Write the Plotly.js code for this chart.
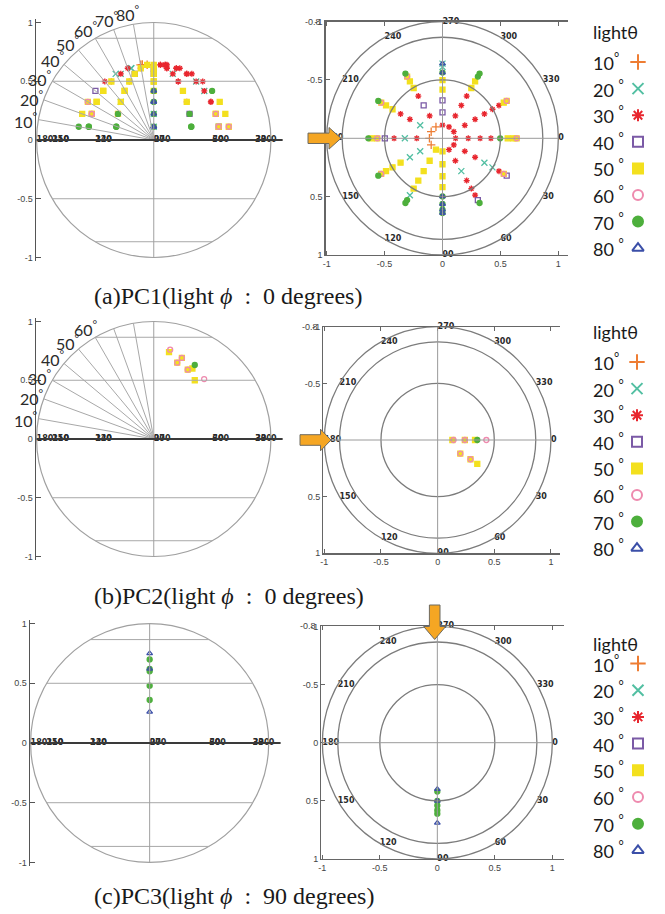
<!DOCTYPE html>
<html><head><meta charset="utf-8">
<script src="https://cdn.plot.ly/plotly-3.0.1.min.js"></script>
<style>html,body{margin:0;padding:0;background:#fff;}#chart{width:665px;height:914px;}</style>
</head><body><div id="chart"></div>
<script>
// ================= DATA =================
const lightTheta = [10, 20, 30, 40, 50, 60, 70, 80];
const legendLabels = ['10<sup>°</sup>', '20 <sup>°</sup>', '30 <sup>°</sup>', '40 <sup>°</sup>',
                      '50 <sup>°</sup>', '60 <sup>°</sup>', '70 <sup>°</sup>', '80 <sup>°</sup>'];
const legendTitle = 'lightθ';
const captions = ['(a)PC1(light <i>ϕ</i>&nbsp;&nbsp;:&nbsp;&nbsp;0&nbsp;degrees)',
                  '(b)PC2(light <i>ϕ</i>&nbsp;&nbsp;:&nbsp;&nbsp;0&nbsp;degrees)',
                  '(c)PC3(light <i>ϕ</i>&nbsp;&nbsp;:&nbsp;&nbsp;90&nbsp;degrees)'];
const polarAngles = [0, 30, 60, 90, 120, 150, 180, 210, 240, 270, 300, 330];
const polarAngleText = ['0', '30', '60', '90', '120', '150', '180', '210', '240', '270', '300', '330'];
const rayAnglesPC1 = [10, 20, 30, 40, 50, 60, 70, 80];
const rayLabelsPC1 = [10, 20, 30, 40, 50, 60, 70, 80];
const rayAnglesPC2 = [10, 20, 30, 40, 50, 60, 70, 80];
const rayLabelsPC2 = [10, 20, 30, 40, 50, 60];
const tickVals = [-1, -0.5, 0, 0.5, 1];
const tickText = ['-1', '-0.5', '0', '0.5', '1'];

// PC1: points given as azimuth / elevation (degrees) on a sphere of radius pc1Radius
const pc1Radius = 0.65;
const pc1_10_az = [150, 180, 210, 240];
const pc1_10_el = [80, 80, 80, 80];
const pc1_20_az = [270, 270, 120, 30, 30, 60, 150, 180, 150, 210];
const pc1_20_el = [10, 20, 30, 40, 50, 60, 60, 60, 70, 70];
const pc1_30_az = [30, 60, 330, 60, 330, 0, 60, 180, 210, 240, 300, 330, 0, 30, 210, 300, 330, 0, 30, 60, 180, 240, 300, 330, 0, 30, 60, 270, 300, 330];
const pc1_30_el = [30, 30, 30, 40, 40, 50, 50, 50, 50, 50, 50, 50, 60, 60, 60, 60, 60, 70, 70, 70, 70, 70, 70, 70, 80, 80, 80, 80, 80, 80];
const pc1_40_az = [30, 60, 180, 240, 270, 270];
const pc1_40_el = [10, 20, 40, 60, 60, 70];
const pc1_50_az = [0, 330, 30, 150, 210, 240, 180, 0, 180, 330, 0, 150, 210, 240, 300, 120, 150, 210, 240, 270, 300, 90, 120, 150, 270, 90, 120, 90, 120, 90, 120];
const pc1_50_el = [10, 10, 20, 20, 20, 20, 30, 20, 20, 20, 30, 30, 30, 30, 30, 40, 40, 40, 40, 40, 40, 50, 50, 50, 50, 60, 60, 70, 70, 80, 80];
const pc1_60_az = [0, 330, 30, 150, 210, 240, 180];
const pc1_60_el = [10, 10, 20, 20, 20, 20, 30];
const pc1_70_az = [60, 90, 120, 150, 180, 210, 240, 300, 90, 120, 300, 90, 270, 0, 90];
const pc1_70_el = [10, 10, 10, 10, 10, 10, 10, 10, 20, 20, 20, 30, 30, 40, 40];
const pc1_80_az = [90, 270, 90, 90, 270, 90];
const pc1_80_el = [10, 10, 20, 30, 30, 40];

// PC2: x, y (top view) and z (height)
const pc2_50_x = [0.13, 0.20, 0.24, 0.29, 0.33, 0.35];
const pc2_50_y = [0, 0.12, 0, 0.17, 0, 0.21];
const pc2_50_z = [0.74, 0.65, 0.69, 0.59, 0.60, 0.50];
const pc2_60_x = [0.14, 0.20, 0.24, 0.29, 0.43];
const pc2_60_y = [0, 0.12, 0, 0.17, 0];
const pc2_60_z = [0.76, 0.65, 0.69, 0.59, 0.51];
const pc2_70_x = [0.35];
const pc2_70_y = [0];
const pc2_70_z = [0.63];

// PC3
const pc3_70_x = [0, 0, 0, 0, 0];
const pc3_70_y = [0.42, 0.50, 0.54, 0.58, 0.61];
const pc3_70_z = [0.70, 0.62, 0.60, 0.48, 0.36];
const pc3_80_x = [0, 0, 0];
const pc3_80_y = [0.40, 0.50, 0.69];
const pc3_80_z = [0.75, 0.62, 0.26];

// ================= STYLE / LAYOUT =================
const colors = ['#EE7D33', '#52BFA2', '#E8262E', '#7B5AA6', '#F3E01E', '#EE8AAE', '#4DAF3C', '#3B4FA8'];
const symbols = ['cross-thin-open', 'x-thin-open', 'asterisk-open', 'square-open', 'square', 'circle-open', 'circle', 'triangle-up-open'];
const W = 665, H = 914;
const px = v => v / W, py = v => 1 - v / H;
const rad = d => d * Math.PI / 180;

// subplot boxes in page pixels + ranges
const box = {
  x:  {px: [36, 285],      py: [19, 261],      xr: [-1.005, 1.12], yr: [-1.03, 1.03]},
  x2: {px: [325.5, 567.6], py: [21.6, 255],    xr: [-1.01, 1.08],  yr: [1, -1]},
  x3: {px: [36, 285],      py: [318, 560],     xr: [-1.005, 1.12], yr: [-1.03, 1.03]},
  x4: {px: [323.2, 560],   py: [326.7, 553.3], xr: [-1.01, 1.08],  yr: [1, -1]},
  x5: {px: [30, 283],      py: [620, 866],     xr: [-1.005, 1.12], yr: [-1.03, 1.03]},
  x6: {px: [321.2, 563.8], py: [626.4, 859],   xr: [-1.01, 1.1],   yr: [1, -1]}
};
function toPaper(k, x, y) {
  const b = box[k];
  const X = b.px[0] + (x - b.xr[0]) / (b.xr[1] - b.xr[0]) * (b.px[1] - b.px[0]);
  const Y = b.py[1] - (y - b.yr[0]) / (b.yr[1] - b.yr[0]) * (b.py[1] - b.py[0]);
  return [px(X), py(Y)];
}

const pc1Az = [pc1_10_az, pc1_20_az, pc1_30_az, pc1_40_az, pc1_50_az, pc1_60_az, pc1_70_az, pc1_80_az];
const pc1El = [pc1_10_el, pc1_20_el, pc1_30_el, pc1_40_el, pc1_50_el, pc1_60_el, pc1_70_el, pc1_80_el];
const pc2 = {4: [pc2_50_x, pc2_50_y, pc2_50_z], 5: [pc2_60_x, pc2_60_y, pc2_60_z], 6: [pc2_70_x, pc2_70_y, pc2_70_z]};
const pc3 = {6: [pc3_70_x, pc3_70_y, pc3_70_z], 7: [pc3_80_x, pc3_80_y, pc3_80_z]};

const traces = [], shapes = [], annotations = [];

function mk(i, x, y, xa, ya, size) {
  const thin = symbols[i].indexOf('thin') >= 0;
  return {type: 'scatter', mode: 'markers', x: x, y: y, xaxis: xa, yaxis: ya, showlegend: false, hoverinfo: 'skip',
    marker: {symbol: symbols[i], color: colors[i], size: thin ? size + 1 : size, line: {color: colors[i], width: 1.3}}};
}
const smallLbl = {family: 'DejaVu Sans, Arial, sans-serif', size: 8, color: '#2a2a2a', weight: 'bold'};

function leftDeco(xr, yr, rays, rayLabels) {
  const L = (x0, y0, x1, y1, c, w) => shapes.push({type: 'line', xref: xr, yref: yr, x0, y0, x1, y1, line: {color: c, width: w}});
  shapes.push({type: 'circle', xref: xr, yref: yr, x0: -1, y0: -1, x1: 1, y1: 1, line: {color: '#a0a0a0', width: 1.2}});
  [0.5, Math.sin(rad(60))].forEach(h => {
    const w = Math.sqrt(1 - h * h);
    L(-w, h, w, h, '#a8a8a8', 1); L(-w, -h, w, -h, '#a8a8a8', 1);
  });
  L(0, -1, 0, 1, '#a0a0a0', 1);
  rays.forEach(t => L(0, 0, -Math.cos(rad(t)), Math.sin(rad(t)), '#a8a8a8', 1));
  L(-1, 0, 1.1, 0, '#3a3a3a', 2);
  rayLabels.forEach(t => {
    const p = toPaper(xr, -1.1 * Math.cos(rad(t - 1.5)), 1.1 * Math.sin(rad(t - 1.5)));
    annotations.push({xref: 'paper', yref: 'paper', x: p[0], y: p[1], xanchor: 'center', yanchor: 'middle',
      text: t + '<sup>°</sup>', showarrow: false, font: {family: 'Lato, Open Sans, sans-serif', size: 16, color: '#2a2a2a'}});
  });
  traces.push({type: 'scatter', mode: 'text', xaxis: xr, yaxis: yr, x: polarAngles.map(a => Math.cos(rad(a))), y: polarAngles.map(() => 0),
    text: polarAngleText, textposition: 'middle right', cliponaxis: false, hoverinfo: 'skip', showlegend: false, textfont: smallLbl});
}
function rightDeco(xr, yr) {
  [1, Math.sqrt(3) / 2, 0.5].forEach(r => shapes.push({type: 'circle', xref: xr, yref: yr, x0: -r, y0: -r, x1: r, y1: r, line: {color: '#7c7c7c', width: 1.3}}));
  shapes.push({type: 'line', xref: xr, yref: yr, x0: -1, y0: 0, x1: 1, y1: 0, line: {color: '#9a9a9a', width: 1}});
  shapes.push({type: 'line', xref: xr, yref: yr, x0: 0, y0: -1, x1: 0, y1: 1, line: {color: '#9a9a9a', width: 1}});
  traces.push({type: 'scatter', mode: 'text', xaxis: xr, yaxis: yr, x: polarAngles.map(a => Math.cos(rad(a))), y: polarAngles.map(a => Math.sin(rad(a))),
    text: polarAngleText, textposition: 'middle right', cliponaxis: false, hoverinfo: 'skip', showlegend: false, textfont: smallLbl});
}

leftDeco('x', 'y', rayAnglesPC1, rayLabelsPC1);
rightDeco('x2', 'y2');
leftDeco('x3', 'y3', rayAnglesPC2, rayLabelsPC2);
rightDeco('x4', 'y4');
leftDeco('x5', 'y5', [], []);
rightDeco('x6', 'y6');

// ---- data traces ----
for (let i = 0; i < 8; i++) {
  const az = pc1Az[i], el = pc1El[i];
  const x = az.map((a, k) => pc1Radius * Math.cos(rad(el[k])) * Math.cos(rad(a)));
  const y = az.map((a, k) => pc1Radius * Math.cos(rad(el[k])) * Math.sin(rad(a)));
  const z = el.map(e => pc1Radius * Math.sin(rad(e)));
  traces.push(mk(i, x, z, 'x', 'y', 5));
  traces.push(mk(i, x, y, 'x2', 'y2', 5));
}
for (let i = 0; i < 8; i++) {
  if (pc2[i]) { traces.push(mk(i, pc2[i][0], pc2[i][2], 'x3', 'y3', 5)); traces.push(mk(i, pc2[i][0], pc2[i][1], 'x4', 'y4', 5)); }
}
for (let i = 0; i < 8; i++) {
  if (pc3[i]) { traces.push(mk(i, pc3[i][0], pc3[i][2], 'x5', 'y5', 5)); traces.push(mk(i, pc3[i][0], pc3[i][1], 'x6', 'y6', 5)); }
}

// ---- legends ----
const legendRows = [
  {title: 32, first: 62, step: 26.6, tx: 590.5, mx: 638},
  {title: 332, first: 362, step: 26.6, tx: 590.5, mx: 637},
  {title: 644, first: 663.5, step: 26.7, tx: 590.5, mx: 638}
];
const lgFont = {family: 'Lato, Open Sans, sans-serif', size: 18, color: '#1a1a1a'};
legendRows.forEach(r => {
  annotations.push({xref: 'paper', yref: 'paper', x: px(r.tx), y: py(r.title), xanchor: 'left', yanchor: 'middle', text: legendTitle, showarrow: false, font: lgFont});
  for (let i = 0; i < 8; i++) {
    const yy = r.first + i * r.step;
    annotations.push({xref: 'paper', yref: 'paper', x: px(r.tx), y: py(yy), xanchor: 'left', yanchor: 'middle', text: legendLabels[i], showarrow: false, font: lgFont});
    const t = mk(i, [r.mx], [yy], 'x7', 'y7', 10);
    t.marker.line.width = 2;
    traces.push(t);
  }
});

// ---- captions ----
[296, 596, 896].forEach((yy, k) => annotations.push({xref: 'paper', yref: 'paper', x: px(92), y: py(yy), xanchor: 'left', yanchor: 'middle',
  text: captions[k], showarrow: false, font: {family: 'Liberation Serif, Times New Roman, serif', size: 24, color: '#1a1a1a'}}));

// ---- garbled top tick label of the right plots ----
['x2', 'x4', 'x6'].forEach(k => annotations.push({xref: 'paper', yref: 'paper', x: px(box[k].px[0] - 3), y: py(box[k].py[0]),
  xanchor: 'right', yanchor: 'middle', text: '-0.8', showarrow: false, font: {family: 'Arial', size: 9, color: '#444'}}));

// ---- arrows ----
function arrowH(tipX, tipY, startX, headX, bh, hh) {
  const P = [[startX, tipY - bh], [headX, tipY - bh], [headX, tipY - hh], [tipX, tipY], [headX, tipY + hh], [headX, tipY + bh], [startX, tipY + bh]];
  return 'M' + P.map(p => px(p[0]) + ',' + py(p[1])).join(' L') + ' Z';
}
function arrowV(tipX, tipY, startY, headY, bh, hh) {
  const P = [[tipX - bh, startY], [tipX - bh, headY], [tipX - hh, headY], [tipX, tipY], [tipX + hh, headY], [tipX + bh, headY], [tipX + bh, startY]];
  return 'M' + P.map(p => px(p[0]) + ',' + py(p[1])).join(' L') + ' Z';
}
const arrowStyle = {type: 'path', xref: 'paper', yref: 'paper', layer: 'above', fillcolor: '#F5A623', line: {color: '#6d6a60', width: 1}};
shapes.push(Object.assign({path: arrowH(341, 138.3, 308, 329, 5.2, 10.8)}, arrowStyle));
shapes.push(Object.assign({path: arrowH(331, 440, 300, 320.5, 5.3, 10.8)}, arrowStyle));
shapes.push(Object.assign({path: arrowV(434.7, 639.5, 605, 626.5, 5.3, 11)}, arrowStyle));

// ---- axes ----
const tf = {family: 'Arial, Liberation Sans, sans-serif', size: 9, color: '#444'};
const dX = k => [box[k].px[0] / W, box[k].px[1] / W];
const dY = k => [1 - box[k].py[1] / H, 1 - box[k].py[0] / H];
function leftY(k, anchor) {
  return {domain: dY(k), anchor: anchor, range: box[k].yr, showline: true, linecolor: '#555', linewidth: 1.5, ticks: 'inside', ticklen: 5,
    tickcolor: '#555', tickwidth: 1.2, tickvals: tickVals, ticktext: tickText, showgrid: false, zeroline: false, tickfont: tf, fixedrange: true};
}
function leftX(k, anchor) { return {domain: dX(k), anchor: anchor, range: box[k].xr, visible: false, fixedrange: true}; }
function rightX(k, anchor) {
  return {domain: dX(k), anchor: anchor, range: box[k].xr, showline: true, linecolor: '#666', linewidth: 1.2, mirror: 'ticks', ticks: 'inside', ticklen: 4,
    tickcolor: '#666', tickvals: tickVals, ticktext: tickText, showgrid: false, zeroline: false, tickfont: tf, fixedrange: true};
}
function rightY(k, anchor) {
  return {domain: dY(k), anchor: anchor, range: box[k].yr, showline: true, linecolor: '#666', linewidth: 1.2, ticks: 'inside', ticklen: 4,
    tickcolor: '#666', tickvals: tickVals, ticktext: tickText, showgrid: false, zeroline: false, tickfont: tf, fixedrange: true};
}

const layout = {
  width: W, height: H, margin: {l: 0, r: 0, t: 0, b: 0}, paper_bgcolor: '#ffffff', plot_bgcolor: 'rgba(0,0,0,0)', showlegend: false,
  xaxis: leftX('x', 'y'), yaxis: leftY('x', 'x'),
  xaxis2: rightX('x2', 'y2'), yaxis2: rightY('x2', 'x2'),
  xaxis3: leftX('x3', 'y3'), yaxis3: leftY('x3', 'x3'),
  xaxis4: rightX('x4', 'y4'), yaxis4: rightY('x4', 'x4'),
  xaxis5: leftX('x5', 'y5'), yaxis5: leftY('x5', 'x5'),
  xaxis6: rightX('x6', 'y6'), yaxis6: rightY('x6', 'x6'),
  xaxis7: {domain: [0, 1], anchor: 'y7', range: [0, W], visible: false, fixedrange: true},
  yaxis7: {domain: [0, 1], anchor: 'x7', range: [H, 0], visible: false, fixedrange: true},
  shapes: shapes, annotations: annotations
};
Plotly.newPlot('chart', traces, layout, {displayModeBar: false, staticPlot: true});
</script></body></html>
